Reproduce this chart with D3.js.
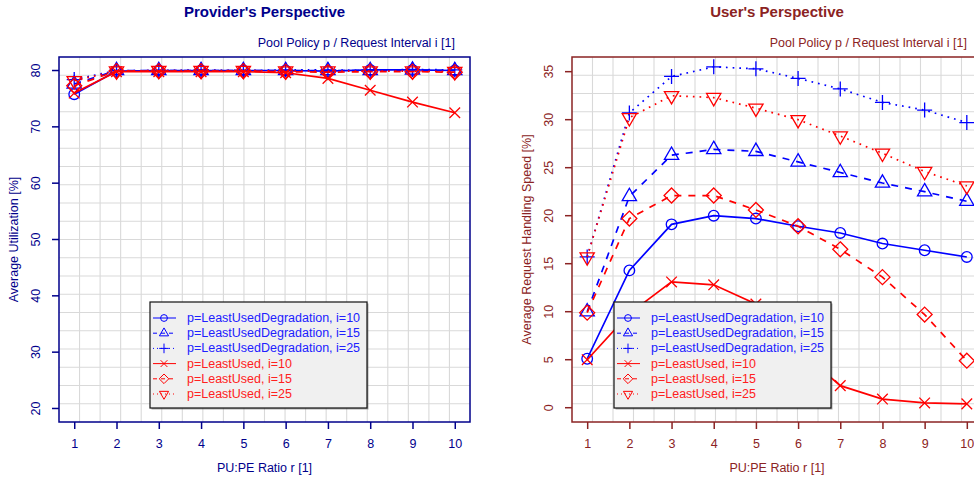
<!DOCTYPE html>
<html>
<head>
<meta charset="utf-8">
<script src="https://cdn.jsdelivr.net/npm/d3@7"></script>
<style>
  body { margin: 0; background: #fff; }
  svg { display: block; font-family: "Liberation Sans", Arial, Helvetica, sans-serif; }
</style>
</head>
<body>
<svg id="chart" width="974" height="481"></svg>
<script>

// PU:PE ratio r
const ratios = [1, 2, 3, 4, 5, 6, 7, 8, 9, 10];

// Provider's perspective: average utilization [%]
const utilLUD10 = [75.8, 79.9, 80.0, 80.0, 80.0, 80.0, 79.9, 80.1, 80.1, 80.0];
const utilLUD15 = [77.6, 80.0, 80.0, 80.0, 80.0, 80.0, 80.0, 80.0, 80.1, 80.0];
const utilLUD25 = [78.4, 80.0, 80.0, 80.1, 80.0, 80.1, 80.1, 80.0, 80.2, 80.1];
const utilLU10  = [76.0, 79.8, 79.8, 79.8, 79.8, 79.6, 78.6, 76.5, 74.4, 72.5];
const utilLU15  = [77.3, 79.9, 79.9, 79.9, 79.9, 79.8, 79.7, 79.8, 79.8, 79.7];
const utilLU25  = [78.2, 79.9, 80.0, 80.0, 80.0, 79.9, 79.9, 79.9, 79.9, 79.8];

// User's perspective: average request handling speed [%]
const speedLUD10 = [5.1, 14.3, 19.1, 20.0, 19.7, 18.9, 18.2, 17.1, 16.4, 15.7];
const speedLUD15 = [10.0, 22.0, 26.3, 26.9, 26.7, 25.6, 24.5, 23.4, 22.5, 21.5];
const speedLUD25 = [15.7, 30.7, 34.5, 35.5, 35.3, 34.3, 33.2, 31.8, 31.0, 29.7];
const speedLU10  = [5.0, 9.8, 13.1, 12.8, 10.8, 6.1, 2.3, 0.9, 0.5, 0.4];
const speedLU15  = [9.9, 19.7, 22.1, 22.1, 20.6, 18.9, 16.5, 13.6, 9.7, 4.9];
const speedLU25  = [15.7, 30.2, 32.5, 32.3, 31.2, 30.0, 28.3, 26.5, 24.6, 23.1];

const seriesNames = [
    "p=LeastUsedDegradation, i=10",
    "p=LeastUsedDegradation, i=15",
    "p=LeastUsedDegradation, i=25",
    "p=LeastUsed, i=10",
    "p=LeastUsed, i=15",
    "p=LeastUsed, i=25"
];
const utilTicks = [20, 30, 40, 50, 60, 70, 80];
const speedTicks = [0, 5, 10, 15, 20, 25, 30, 35];

// styles per series (colour, dash, R pch symbol)
const seriesStyle = [
    { color: "#0000ff", dash: null, pch: 1 },
    { color: "#0000ff", dash: "7,7", pch: 2 },
    { color: "#0000ff", dash: "1.7,5", pch: 3 },
    { color: "#ff0000", dash: null, pch: 4 },
    { color: "#ff0000", dash: "7,7", pch: 5 },
    { color: "#ff0000", dash: "1.7,5", pch: 6 }
];

// R-like symbol paths, s = circle radius
const symbolPath = (pch, s) => {
    const t0 = 1.5551, t1 = 1.3468, t2 = 0.7776, q = Math.SQRT2 * s;
    switch (pch) {
        case 1: return `M${-s},0A${s},${s} 0 1,0 ${s},0A${s},${s} 0 1,0 ${-s},0Z`;
        case 2: return `M0,${-t0 * s}L${t1 * s},${t2 * s}L${-t1 * s},${t2 * s}Z`;
        case 3: return `M${-q},0L${q},0M0,${-q}L0,${q}`;
        case 4: return `M${-s},${-s}L${s},${s}M${-s},${s}L${s},${-s}`;
        case 5: return `M0,${-q}L${q},0L0,${q}L${-q},0Z`;
        case 6: return `M0,${t0 * s}L${t1 * s},${-t2 * s}L${-t1 * s},${-t2 * s}Z`;
    }
};

// R's default 4% axis extension
const padded = ([a, b]) => [a - 0.04 * (b - a), b + 0.04 * (b - a)];

const svg = d3.select("#chart");

const drawPanel = (opt) => {
    const g = svg.append("g");
    const { left, right, top, bottom, axisColor } = opt;

    const x = d3.scaleLinear().domain(padded([1, 10])).range([left, right]);
    const y = d3.scaleLinear().domain(padded(opt.ylim)).range([bottom, top]);

    // grid, 20 x 20 cells over the plot region
    const grid = g.append("g").attr("stroke", "#d9d9d9").attr("stroke-width", 1.1);
    for (let k = 1; k < 20; k++) {
        let gx = left + (right - left) * k / 20;
        let gy = top + (bottom - top) * k / 20;
        grid.append("line").attr("x1", gx).attr("x2", gx).attr("y1", top).attr("y2", bottom);
        grid.append("line").attr("x1", left).attr("x2", right).attr("y1", gy).attr("y2", gy);
    }

    // series
    const plot = g.append("g");
    opt.values.forEach((vals, i) => {
        const st = seriesStyle[i];
        const pts = ratios.map((r, j) => [x(r), y(vals[j])]);
        plot.append("path")
            .attr("d", d3.line()(pts))
            .attr("fill", "none")
            .attr("stroke", st.color)
            .attr("stroke-width", 1.7)
            .attr("stroke-dasharray", st.dash);
        plot.selectAll(null)
            .data(pts)
            .enter()
            .append("path")
            .attr("transform", d => `translate(${d[0]},${d[1]})`)
            .attr("d", symbolPath(st.pch, 5.3))
            .attr("fill", "none")
            .attr("stroke", st.color)
            .attr("stroke-width", 1.3);
    });

    // box
    g.append("rect")
        .attr("x", left).attr("y", top)
        .attr("width", right - left).attr("height", bottom - top)
        .attr("fill", "none")
        .attr("stroke", axisColor)
        .attr("stroke-width", 1.5);

    // axes
    const xAxis = g.append("g")
        .attr("transform", `translate(0,${bottom})`)
        .call(d3.axisBottom(x).tickValues(ratios).tickSize(7).tickPadding(10).tickFormat(d3.format("d")));
    const yAxis = g.append("g")
        .attr("transform", `translate(${left},0)`)
        .call(d3.axisLeft(y).tickValues(opt.yticks).tickSize(7).tickFormat(d3.format("d")));
    [xAxis, yAxis].forEach(a => {
        a.select(".domain").remove();
        a.selectAll("line").attr("stroke", axisColor).attr("stroke-width", 1.5);
        a.selectAll("text").attr("fill", axisColor).attr("font-size", 12.5)
            .attr("font-family", "Liberation Sans, Arial, sans-serif");
    });
    yAxis.selectAll("text")
        .attr("x", null).attr("dy", null)
        .attr("text-anchor", "middle")
        .attr("transform", d => `translate(${-23},${y(d)}) rotate(-90)`)
        .attr("y", 0)
        .attr("dominant-baseline", "central");
    yAxis.selectAll(".tick").attr("transform", null);
    yAxis.selectAll(".tick line").attr("transform", d => `translate(0,${y(d)})`);

    // titles
    const mid = (left + right) / 2;
    g.append("text")
        .attr("x", mid).attr("y", 17)
        .attr("text-anchor", "middle")
        .attr("font-size", 15).attr("font-weight", "bold")
        .attr("fill", axisColor)
        .text(opt.title);
    g.append("text")
        .attr("x", right - 15).attr("y", 47)
        .attr("text-anchor", "end")
        .attr("font-size", 12.5)
        .attr("fill", axisColor)
        .text("Pool Policy p / Request Interval i [1]");
    g.append("text")
        .attr("x", mid).attr("y", 472)
        .attr("text-anchor", "middle")
        .attr("font-size", 12.5)
        .attr("fill", axisColor)
        .text("PU:PE Ratio r [1]");
    g.append("text")
        .attr("transform", `translate(${opt.ylabelX},${(top + bottom) / 2}) rotate(-90)`)
        .attr("text-anchor", "middle")
        .attr("dominant-baseline", "central")
        .attr("font-size", 12.5)
        .attr("fill", axisColor)
        .text(opt.ylabel);

    // legend
    const lg = g.append("g").attr("transform", `translate(${opt.legendX},302)`);
    lg.append("rect")
        .attr("x", 1.5).attr("y", 1.5).attr("width", 217).attr("height", 106)
        .attr("fill", "#555").attr("opacity", 0.5);
    lg.append("rect")
        .attr("width", 217).attr("height", 106)
        .attr("fill", "#f0f0f0")
        .attr("stroke", "#111")
        .attr("stroke-width", 1.2);
    seriesNames.forEach((name, i) => {
        const st = seriesStyle[i];
        const ry = 16 + i * 15.2;
        lg.append("line")
            .attr("x1", 3).attr("x2", 26).attr("y1", ry).attr("y2", ry)
            .attr("stroke", st.color)
            .attr("stroke-width", 1)
            .attr("stroke-dasharray", st.dash ? (st.pch === 3 || st.pch === 6 ? "1,3" : "4,4") : null);
        lg.append("path")
            .attr("transform", `translate(14,${ry})`)
            .attr("d", symbolPath(st.pch, 3.4))
            .attr("fill", "none")
            .attr("stroke", st.color)
            .attr("stroke-width", 1);
        lg.append("text")
            .attr("x", 37).attr("y", ry)
            .attr("dominant-baseline", "central")
            .attr("font-size", 12.5)
            .attr("fill", st.color === "#0000ff" ? "#2020ff" : "#ff2020")
            .text(name);
    });
};

drawPanel({
    left: 59, right: 470, top: 57, bottom: 422,
    ylim: [20, 80], yticks: utilTicks,
    values: [utilLUD10, utilLUD15, utilLUD25, utilLU10, utilLU15, utilLU25],
    axisColor: "#00008b",
    title: "Provider's Perspective",
    ylabel: "Average Utilization [%]",
    ylabelX: 14,
    legendX: 150
});

drawPanel({
    left: 572, right: 982, top: 57, bottom: 422,
    ylim: [-0.08, 35.12], yticks: speedTicks,
    values: [speedLUD10, speedLUD15, speedLUD25, speedLU10, speedLU15, speedLU25],
    axisColor: "#8b2323",
    title: "User's Perspective",
    ylabel: "Average Request Handling Speed [%]",
    ylabelX: 527,
    legendX: 614
});

</script>
</body>
</html>
